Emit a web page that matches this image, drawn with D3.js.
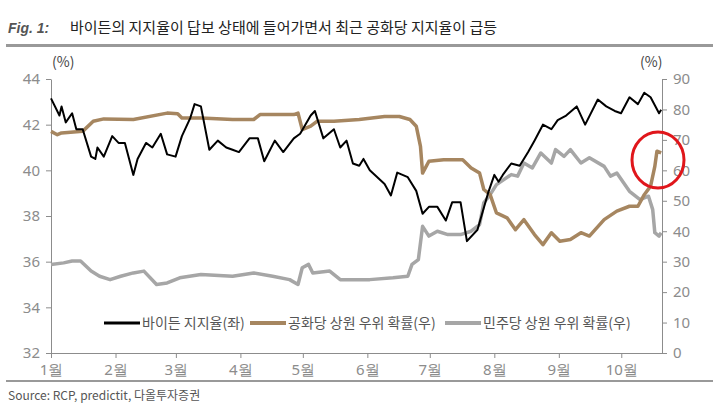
<!DOCTYPE html>
<html><head><meta charset="utf-8">
<script src="https://cdn.jsdelivr.net/npm/d3@7"></script>
<style>body{margin:0;background:#fff;font-family:"Noto Sans CJK KR","Noto Sans",sans-serif}</style>
</head><body><svg id="c" width="713" height="410"></svg>
<script>
const months=["1월","2월","3월","4월","5월","6월","7월","8월","9월","10월"];
const leftTicks=[32,34,36,38,40,42,44];
const rightTicks=[0,10,20,30,40,50,60,70,80,90];
const seriesNames=["바이든 지지율(좌)","공화당 상원 우위 확률(우)","민주당 상원 우위 확률(우)"];
// day offsets from Jan 1
const bidenDays=[0,4,5,7,10,12,15,19,21,22,25,29,32,35,39,41,45,48,52,55,59,62,66,68,71,75,79,83,86,89,94,98,101,106,110,115,118,123,125,129,134,137,140,143,146,148,151,158,161,164,169,173,176,179,183,187,190,194,197,202,207,210,212,214,218,222,226,229,233,237,240,244,249,253,259,263,267,270,274,278,281,284,288,289];
const bidenVals=[43.15,42.4,42.8,42.1,42.5,41.8,41.8,40.6,40.5,41.0,40.6,41.5,41.2,41.2,39.8,40.5,41.2,41.0,41.6,40.7,40.6,41.5,42.3,42.9,42.8,40.9,41.3,41.0,40.9,40.8,41.4,41.4,40.4,41.3,40.8,41.4,41.6,42.4,42.6,41.4,41.8,41.0,41.3,40.3,40.2,40.5,40.0,39.4,38.9,39.9,39.7,39.1,38.1,38.4,38.4,37.8,38.6,38.6,36.9,37.4,39.0,39.8,39.5,39.8,40.3,40.2,40.8,41.3,42.0,41.8,42.2,42.4,42.8,42.0,43.1,42.8,42.6,42.5,43.2,42.9,43.4,43.2,42.5,42.65];
const repDays=[0,3,5,15,20,25,39,55,60,62,71,86,96,99,115,117,119,123,126,134,146,158,165,170,173,175,176,179,186,195,199,203,205,208,211,216,220,224,229,233,237,241,246,251,255,262,268,274,278,281,284,286,287,289];
const repVals=[72.8,71.7,72.3,72.8,76.1,76.9,76.7,78.8,78.6,77.2,77.2,76.7,76.7,78.3,78.3,78.8,73.4,74.5,76.1,76.1,76.7,77.7,77.7,76.7,74.5,67.9,59.1,63.0,63.5,63.5,60.8,59.1,53.7,52.0,46.0,44.4,40.5,43.8,38.9,35.6,39.5,36.7,37.3,39.5,38.4,43.8,46.6,48.2,48.2,52.0,54.8,61.3,66.3,65.7];
const demDays=[0,6,10,14,19,23,28,33,39,44,50,55,61,71,86,96,105,113,117,119,122,124,132,137,146,151,162,169,171,174,176,179,183,188,194,199,203,205,208,211,218,221,224,228,232,237,239,243,246,251,255,262,265,268,274,279,283,285,286,288,289];
const demVals=[29.1,29.6,30.2,30.2,26.9,25.2,24.1,25.2,26.3,26.9,22.5,23.0,24.7,25.8,25.2,26.3,25.2,24.1,22.5,28.0,29.1,26.3,26.9,24.1,24.1,24.1,24.7,25.2,29.1,30.7,41.6,38.4,40.0,38.9,38.9,40.0,42.2,49.3,52.0,55.3,58.6,58.1,62.4,60.8,65.7,62.4,66.8,64.6,66.8,62.4,64.1,61.3,58.1,59.1,53.1,50.4,51.5,47.1,39.5,38.4,39.5];

const svg=d3.select("#c");
const t0=new Date(2020,0,1);
const k=1.0144;
const toDate=d=>new Date(t0.getTime()+d*k*864e5);
const x=d3.scaleTime().domain([t0,toDate(289.4)]).range([51,662]);
const yL=d3.scaleLinear().domain([32,44]).range([353,79]);
const yR=d3.scaleLinear().domain([0,90]).range([353,79]);
const grey="#8c8c8c";

svg.append("text").attr("x",8).attr("y",33).attr("font-family","Arial, Liberation Sans").attr("font-style","italic").attr("font-weight","bold").attr("font-size",14).attr("fill","#555").text("Fig. 1:");
svg.append("text").attr("x",70).attr("y",33).attr("font-size",15).attr("fill","#222").text("바이든의 지지율이 답보 상태에 들어가면서 최근 공화당 지지율이 급등");
svg.append("rect").attr("x",6).attr("y",44).attr("width",707).attr("height",3).attr("fill","#999");
svg.append("rect").attr("x",6).attr("y",380).attr("width",707).attr("height",2).attr("fill","#999");
svg.append("text").attr("x",8).attr("y",400).attr("font-size",12).attr("fill","#555").text("Source: RCP, predictit, 다올투자증권");

const ax=g=>{g.selectAll("path,line").attr("stroke",grey);g.selectAll("text").attr("fill",grey).attr("font-size",15).attr("font-family","Noto Sans, sans-serif");};
svg.append("g").attr("transform","translate(51,0)").call(d3.axisLeft(yL).tickValues(leftTicks).tickSize(5).tickSizeOuter(0).tickPadding(6)).call(ax);
svg.append("g").attr("transform","translate(662,0)").call(d3.axisRight(yR).tickValues(rightTicks).tickSize(5).tickSizeOuter(0).tickPadding(6)).call(ax);
const mDates=months.map((m,i)=>new Date(2020,i,1));
svg.append("g").attr("transform","translate(0,353)").call(d3.axisBottom(x).tickValues(mDates).tickFormat((d,i)=>months[i]).tickSize(5).tickSizeOuter(0).tickPadding(6)).call(ax);
svg.append("text").attr("x",52).attr("y",67).attr("font-size",14).attr("fill","#444").text("(%)");
svg.append("text").attr("x",640).attr("y",67).attr("font-size",14).attr("fill","#444").text("(%)");

const lineL=d3.line().x(d=>x(toDate(d[0]))).y(d=>yL(d[1]));
const lineR=d3.line().x(d=>x(toDate(d[0]))).y(d=>yR(d[1]));
const zip=(a,b)=>a.map((d,i)=>[d,b[i]]);
const cols=["#000","#a68660","#a6a6a6"];
svg.append("path").attr("d",lineR(zip(demDays,demVals))).attr("fill","none").attr("stroke",cols[2]).attr("stroke-width",3.5).attr("stroke-linejoin","round");
svg.append("path").attr("d",lineR(zip(repDays,repVals))).attr("fill","none").attr("stroke",cols[1]).attr("stroke-width",3.5).attr("stroke-linejoin","round");
svg.append("path").attr("d",lineL(zip(bidenDays,bidenVals))).attr("fill","none").attr("stroke",cols[0]).attr("stroke-width",2).attr("stroke-linejoin","round");

const lx=[104,250,445];
seriesNames.forEach((n,i)=>{
  svg.append("line").attr("x1",lx[i]).attr("x2",lx[i]+36).attr("y1",323).attr("y2",323).attr("stroke",cols[i]).attr("stroke-width",i?4:3);
  svg.append("text").attr("x",lx[i]+38).attr("y",328).attr("font-size",14).attr("fill","#555").text(n);
});
svg.append("ellipse").attr("cx",658).attr("cy",160).attr("rx",26).attr("ry",28).attr("fill","none").attr("stroke","#e0161b").attr("stroke-width",3);
</script></body></html>
